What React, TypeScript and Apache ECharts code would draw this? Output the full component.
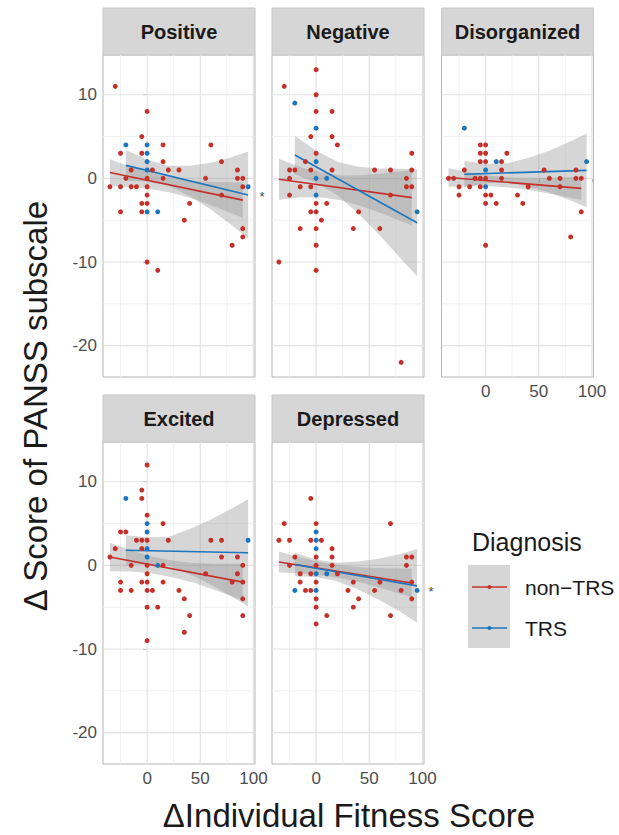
import React, { useEffect, useRef } from "react";
import * as echarts from "echarts";

// ---------- data ----------
const facetNames = ["Positive", "Negative", "Disorganized", "Excited", "Depressed"];
const groupNames = ["non−TRS", "TRS"];
const legendTitle = "Diagnosis";
const xTitle = "ΔIndividual Fitness Score";
const yTitle = "Δ Score of PANSS subscale";

const xTickValues = [0, 50, 100];
const xMinorGrid = [-25, 25, 75];
const yTickValues = [-20, -10, 0, 10];
const yMinorGrid = [-15, -5, 5];
const xRange = [-41.5, 101.5];
const yRange = [-23.75, 14.75];

// points [x, y]
const positiveNonTRS = [[-30,11],[-35,-1],[-25,3],[-25,-1],[-25,-4],[-20,0],[-15,1],[-15,-1],[-10,-1],[-5,5],[-5,3],[-5,-3],[-5,-4],[0,8],[0,0],[0,-1],[0,-2],[0,-3],[0,-10],[5,1],[10,-11],[15,4],[15,2],[15,0],[20,1],[30,1],[35,-5],[40,-3],[55,0],[60,4],[70,2],[70,-2],[80,-8],[85,1],[85,0],[90,0],[90,-1],[90,-6],[90,-7]];
const positiveTRS = [[-20,4],[0,4],[0,3],[0,2],[0,1],[0,-4],[10,-4],[95,-1]];

const negativeNonTRS = [[0,13],[-30,11],[0,10],[0,8],[15,8],[-5,5],[15,5],[20,4],[0,3],[-10,2],[-25,1],[-20,1],[-5,1],[15,1],[55,1],[70,1],[90,3],[90,1],[-25,0],[85,0],[-15,-1],[-5,-1],[85,-1],[90,-1],[-25,-2],[70,-2],[0,-3],[10,-3],[-5,-4],[0,-4],[40,-4],[5,-5],[-15,-6],[0,-6],[35,-6],[60,-6],[0,-8],[-35,-10],[0,-11],[80,-22]];
const negativeTRS = [[-20,9],[0,6],[0,2],[0,0],[10,0],[0,-2],[95,-4]];

const disorganizedNonTRS = [[-5,4],[0,4],[-5,3],[0,3],[20,3],[-5,2],[0,2],[15,2],[-20,1],[15,1],[55,1],[85,1],[-35,0],[-30,0],[-10,0],[-5,0],[0,0],[15,0],[60,0],[70,0],[85,0],[90,0],[-25,-1],[-15,-1],[-5,-1],[40,-1],[70,-1],[-25,-2],[0,-2],[5,-2],[30,-2],[0,-3],[10,-3],[35,-3],[90,-4],[80,-7],[0,-8]];
const disorganizedTRS = [[-20,6],[10,2],[95,2],[0,1],[0,-1]];

const excitedNonTRS = [[0,12],[-5,9],[-5,8],[0,6],[15,5],[-25,4],[-20,4],[-10,3],[-5,3],[0,3],[20,3],[60,3],[70,3],[-30,2],[-5,2],[-35,1],[70,1],[85,1],[-15,0],[0,0],[15,0],[90,0],[0,-1],[55,-1],[85,-1],[-25,-2],[-5,-2],[0,-2],[15,-2],[80,-2],[90,-2],[-25,-3],[-15,-3],[0,-3],[5,-3],[30,-3],[35,-4],[90,-4],[0,-5],[10,-5],[40,-6],[90,-6],[35,-8],[0,-9]];
const excitedTRS = [[-20,8],[0,5],[0,4],[0,2],[0,1],[10,0],[95,3]];

const depressedNonTRS = [[-5,8],[-30,5],[0,5],[70,5],[-35,3],[-25,3],[-5,3],[5,3],[15,2],[-20,1],[0,1],[15,1],[85,1],[90,1],[-25,0],[0,0],[15,0],[85,0],[-15,-1],[-5,-1],[20,-1],[-15,-2],[0,-2],[35,-2],[60,-2],[90,-2],[-10,-3],[-5,-3],[30,-3],[55,-3],[80,-3],[0,-4],[40,-4],[90,-4],[0,-5],[35,-5],[10,-6],[70,-6],[0,-7]];
const depressedTRS = [[0,4],[0,3],[0,2],[0,-1],[10,-1],[-20,-3],[0,-3],[95,-3]];

// fitted lines [x, y] (endpoints)
const positiveLineNon = [[-35,0.7],[90,-2.6]];
const positiveLineTRS = [[-20,1.55],[95,-2.0]];
const negativeLineNon = [[-35,-0.1],[90,-2.3]];
const negativeLineTRS = [[-20,2.8],[95,-5.3]];
const disorganizedLineNon = [[-35,0.1],[90,-1.2]];
const disorganizedLineTRS = [[-20,0.5],[95,0.95]];
const excitedLineNon = [[-35,1.0],[90,-2.0]];
const excitedLineTRS = [[-20,1.8],[95,1.5]];
const depressedLineNon = [[-35,0.4],[90,-2.1]];
const depressedLineTRS = [[-20,0.1],[95,-2.45]];

// confidence bands [x, lower, upper]
const positiveBandNon = [[-35,-0.9,2.3],[-15,-1.03,1.37],[5,-1.31,0.59],[25,-1.78,0.02],[45,-2.51,-0.31],[65,-3.44,-0.44],[90,-4.7,-0.5]];
const positiveBandTRS = [[-20,-0.3,3.4],[0,-0.37,2.23],[20,-0.89,1.51],[40,-2.1,1.5],[60,-3.72,1.88],[80,-5.64,2.56],[95,-7.2,3.2]];
const negativeBandNon = [[-35,-2.55,2.35],[-15,-2.25,1.35],[5,-2.3,0.7],[25,-2.66,0.34],[45,-3.41,0.39],[65,-4.36,0.64],[90,-5.6,1.0]];
const negativeBandTRS = [[-20,0.5,5.1],[0,-0.51,3.29],[20,-2.02,1.98],[40,-4.22,1.38],[60,-6.83,1.17],[80,-9.64,1.16],[95,-11.7,1.1]];
const disorganizedBandNon = [[-35,-1.0,1.2],[-15,-0.91,0.69],[5,-0.94,0.3],[25,-1.12,0.08],[45,-1.48,0.02],[65,-1.94,0.06],[90,-2.6,0.2]];
const disorganizedBandTRS = [[-20,-1.1,2.1],[0,-0.57,1.73],[20,-0.49,1.81],[40,-0.97,2.43],[60,-1.69,3.31],[80,-2.66,4.44],[95,-3.45,5.35]];
const excitedBandNon = [[-35,-0.7,2.7],[-15,-0.73,1.77],[5,-0.96,1.04],[25,-1.44,0.56],[45,-2.12,0.28],[65,-3.0,0.2],[90,-4.2,0.2]];
const excitedBandTRS = [[-20,0.0,3.6],[0,0.15,3.35],[20,0.0,3.4],[40,-1.06,4.34],[60,-2.31,5.49],[80,-3.76,6.84],[95,-4.9,7.9]];
const depressedBandNon = [[-35,-0.85,1.65],[-15,-0.95,0.95],[5,-1.18,0.38],[25,-1.58,-0.02],[45,-2.15,-0.25],[65,-2.85,-0.35],[90,-3.8,-0.4]];
const depressedBandTRS = [[-20,-1.3,1.5],[0,-1.39,0.71],[20,-1.89,0.31],[40,-2.93,0.47],[60,-4.17,0.83],[80,-5.62,1.38],[95,-6.85,1.95]];

// significance marks: facet index
const starredFacets = [0, 4];

// ---------- styling / layout ----------
const FONT = "'Liberation Sans', Arial, Helvetica, sans-serif";
const RED = "#C4302A";
const BLUE = "#1C76BE";
const RIBBON = "rgba(153,153,153,0.4)";
const panelW = 152;
const panelH = 322;
const colLeft = [103, 272, 441.5];
const rowTop = [55, 442];
const stripH = 47;

const facets = [
  { pts: [positiveNonTRS, positiveTRS], lines: [positiveLineNon, positiveLineTRS], bands: [positiveBandNon, positiveBandTRS] },
  { pts: [negativeNonTRS, negativeTRS], lines: [negativeLineNon, negativeLineTRS], bands: [negativeBandNon, negativeBandTRS] },
  { pts: [disorganizedNonTRS, disorganizedTRS], lines: [disorganizedLineNon, disorganizedLineTRS], bands: [disorganizedBandNon, disorganizedBandTRS] },
  { pts: [excitedNonTRS, excitedTRS], lines: [excitedLineNon, excitedLineTRS], bands: [excitedBandNon, excitedBandTRS] },
  { pts: [depressedNonTRS, depressedTRS], lines: [depressedLineNon, depressedLineTRS], bands: [depressedBandNon, depressedBandTRS] },
];

function panelPos(i: number) {
  const row = i < 3 ? 0 : 1;
  const col = i < 3 ? i : i - 3;
  return { left: colLeft[col], top: rowTop[row] };
}

export default function App() {
  const ref = useRef<HTMLDivElement>(null);
  useEffect(() => {
    if (!ref.current) return;
    const chart = echarts.init(ref.current, undefined, { renderer: "svg" });
    const grids: any[] = [];
    const xAxes: any[] = [];
    const yAxes: any[] = [];
    const series: any[] = [];
    const graphics: any[] = [];
    const colors = [RED, BLUE];

    facets.forEach((f, i) => {
      const p = panelPos(i);
      const showX = i >= 2;
      const showY = i === 0 || i === 3;
      grids.push({
        left: p.left, top: p.top, width: panelW, height: panelH,
        show: true, backgroundColor: "#ffffff", borderColor: "#b5b5b5", borderWidth: 1,
        containLabel: false, outerBoundsMode: "none",
      });
      xAxes.push({
        gridIndex: i, type: "value", min: xRange[0], max: xRange[1],
        splitLine: { show: false }, axisLine: { show: false },
        axisTick: { show: showX, length: 4, customValues: xTickValues, lineStyle: { color: "#999999", width: 1 } },
        axisLabel: { show: showX, customValues: xTickValues, color: "#4d4d4d", fontSize: 17, fontFamily: FONT, margin: 6 },
      });
      yAxes.push({
        gridIndex: i, type: "value", min: yRange[0], max: yRange[1],
        splitLine: { show: false }, axisLine: { show: false },
        axisTick: { show: showY, length: 4, customValues: yTickValues, lineStyle: { color: "#999999", width: 1 } },
        axisLabel: { show: showY, customValues: yTickValues, color: "#4d4d4d", fontSize: 17, fontFamily: FONT, margin: 6 },
      });
      // gridlines
      series.push({
        type: "custom", xAxisIndex: i, yAxisIndex: i, silent: true, z: 1,
        data: [[0, 0]],
        renderItem: (params: any, api: any) => {
          const cs = params.coordSys;
          const children: any[] = [];
          const vline = (v: number, major: boolean) => {
            const c = api.coord([v, 0]);
            children.push({ type: "line", shape: { x1: c[0], y1: cs.y, x2: c[0], y2: cs.y + cs.height },
              style: { stroke: major ? "#e2e2e2" : "#eeeeee", lineWidth: major ? 1.2 : 0.9 } });
          };
          const hline = (v: number, major: boolean) => {
            const c = api.coord([0, v]);
            children.push({ type: "line", shape: { x1: cs.x, y1: c[1], x2: cs.x + cs.width, y2: c[1] },
              style: { stroke: major ? "#e2e2e2" : "#eeeeee", lineWidth: major ? 1.2 : 0.9 } });
          };
          xMinorGrid.forEach((v) => vline(v, false));
          yMinorGrid.forEach((v) => hline(v, false));
          xTickValues.forEach((v) => vline(v, true));
          yTickValues.forEach((v) => hline(v, true));
          return { type: "group", children };
        },
      });
      // points
      f.pts.forEach((pts, g) => {
        series.push({
          type: "scatter", name: groupNames[g], xAxisIndex: i, yAxisIndex: i, z: 2,
          data: pts, symbolSize: 5, itemStyle: { color: colors[g], opacity: 1 }, silent: true,
        });
      });
      // ribbons + lines
      f.bands.forEach((band, g) => {
        series.push({
          type: "custom", xAxisIndex: i, yAxisIndex: i, silent: true, z: 2,
          data: [[0, 0]],
          renderItem: (_params: any, api: any) => {
            const ptsPx: number[][] = [];
            band.forEach((b) => ptsPx.push(api.coord([b[0], b[2]])));
            for (let k = band.length - 1; k >= 0; k--) ptsPx.push(api.coord([band[k][0], band[k][1]]));
            return { type: "polygon", shape: { points: ptsPx, smooth: 0 }, style: { fill: RIBBON, stroke: "none" } };
          },
        });
        series.push({
          type: "line", name: groupNames[g], xAxisIndex: i, yAxisIndex: i, z: 2,
          data: f.lines[g], showSymbol: false, symbol: "none", silent: true,
          lineStyle: { color: colors[g], width: 1.6 },
        });
      });
      // strip
      graphics.push({
        type: "rect", shape: { x: p.left, y: p.top - stripH, width: panelW, height: stripH },
        style: { fill: "#d6d6d6", stroke: "#c6c6c6", lineWidth: 1 }, silent: true,
      });
      graphics.push({
        type: "text", x: p.left + panelW / 2, y: p.top - stripH / 2,
        style: { text: facetNames[i], fontSize: 20, fontWeight: "bold", fontFamily: FONT, fill: "#1a1a1a",
          align: "center", verticalAlign: "middle", textAlign: "center", textVerticalAlign: "middle" },
        silent: true,
      });
    });

    // significance stars
    starredFacets.forEach((i) => {
      const p = panelPos(i);
      graphics.push({
        type: "text", x: p.left + panelW + 7, y: i < 3 ? 196 : 591,
        style: { text: "*", fontSize: 13, fontFamily: FONT, fill: "#4a4a4a",
          align: "center", verticalAlign: "middle", textAlign: "center", textVerticalAlign: "middle" },
      });
    });

    // axis titles
    graphics.push({
      type: "text", x: 349, y: 815,
      style: { text: xTitle, fontSize: 33, fontFamily: FONT, fill: "#1a1a1a",
        align: "center", verticalAlign: "middle", textAlign: "center", textVerticalAlign: "middle" },
    });
    graphics.push({
      type: "text", x: 35, y: 406, rotation: Math.PI / 2,
      style: { text: yTitle, fontSize: 33, fontFamily: FONT, fill: "#1a1a1a",
        align: "center", verticalAlign: "middle", textAlign: "center", textVerticalAlign: "middle" },
    });

    // legend
    graphics.push({
      type: "text", x: 472, y: 542,
      style: { text: legendTitle, fontSize: 25, fontFamily: FONT, fill: "#1a1a1a",
        align: "left", verticalAlign: "middle", textAlign: "left", textVerticalAlign: "middle" },
    });
    graphics.push({ type: "rect", shape: { x: 468, y: 565, width: 42, height: 83 }, style: { fill: "#d6d6d6" } });
    groupNames.forEach((name, g) => {
      const y = g === 0 ? 587 : 628;
      graphics.push({ type: "line", shape: { x1: 472, y1: y, x2: 507, y2: y }, style: { stroke: colors[g], lineWidth: 1.6 } });
      graphics.push({ type: "circle", shape: { cx: 489.5, cy: y, r: 2 }, style: { fill: colors[g] } });
      graphics.push({
        type: "text", x: 525, y: y,
        style: { text: name, fontSize: 21, fontFamily: FONT, fill: "#1a1a1a",
          align: "left", verticalAlign: "middle", textAlign: "left", textVerticalAlign: "middle" },
      });
    });

    chart.setOption({
      animation: false,
      backgroundColor: "#ffffff",
      grid: grids,
      xAxis: xAxes,
      yAxis: yAxes,
      series,
      graphic: graphics,
    });
    return () => chart.dispose();
  }, []);
  return <div ref={ref} style={{ position: "absolute", left: 0, top: 0, width: 619, height: 835 }} />;
}
